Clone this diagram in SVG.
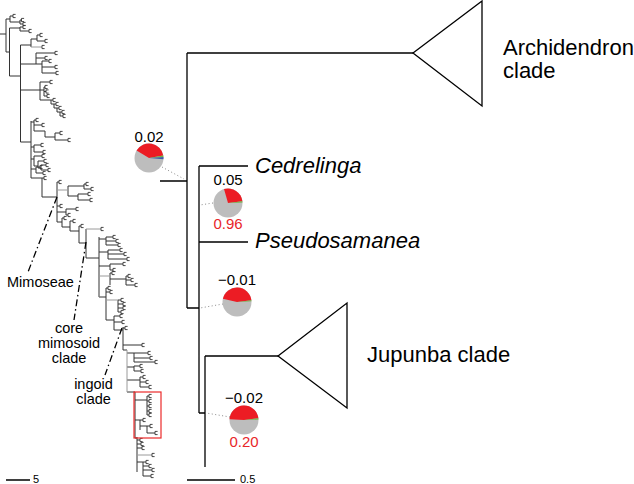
<svg xmlns="http://www.w3.org/2000/svg" width="634" height="484" viewBox="0 0 634 484">
<style>
.br{fill:none;stroke:#000;stroke-width:1.3}
.lt{fill:none;stroke:#333;stroke-width:1}
.lg{fill:none;stroke:#9a9a9a;stroke-width:1}
.dot{fill:none;stroke:#8a8a8a;stroke-width:1;stroke-dasharray:1,2.5}
.dd{fill:none;stroke:#000;stroke-width:1.3;stroke-dasharray:7,3,1.5,3}
.t{font-family:"Liberation Sans",Arial,Helvetica,sans-serif;fill:#000}
.big{font-size:22px}
.sm{font-size:14.5px}
.pl{font-size:15px}
.xs{font-size:11px}
.it{font-style:italic}
.red{fill:#e8262a}
.pr{fill:#ec1c24}
.pg{fill:#bdbdbd}
.pgr{fill:#6db33f}
.pb{fill:#3c5ea8}
</style>
<defs>
<path id="c" d="M0,-1.6V1.6M0,-1.6H2.6M0,1.6H2.6" fill="none" stroke="#333" stroke-width="0.9"/>
</defs>

<g id="overview-tree">
<path class="lt" d="M0,34H6M6,19V52M6,19H10M10,16V22M10,16H13M10,22H20M20,20V24M20,20H21.5M20,24H23
M6,52H9.5M9.5,28V76M9.5,28H20M20,27V31M20,27H23M20,31H29
M9.5,76H20.5M20.5,45V142M20.5,45H31M31,39V47M31,39H37M37,35V41M37,35H40M37,41H45
M20.5,64H36M36,53V64M36,53H55M36,58H45M36,64H42M42,61V73M42,61H49M42,67H55M42,73H56
M20.5,90H40M40,82V100M40,82H50M40,90H44M44,87V96M44,87H45M44,91.5H46M44,96H47
M40,100H51M51,100V104M51,100H53M51,104H54M54,104V108M54,104H56M54,108H57M57,108V112M57,108H59M57,112H60M60,112V116M60,112H62M60,116H63
M20.5,142H31M31,121V178M31,122H34M34,120V131M34,120H36M34,125H42M34,131H45M45,131V137M45,137H55M55,133V140M55,133H60M55,140H68
M31,147H34M34,145V152M34,145H41M34,152H43
M31,159H34M34,156V166M34,156H42M34,166H38M38,161V168M38,161H44M38,168H41M41,165V170M41,165H46M41,170H48
M31,169H36M36,167V173M36,167H40M36,173H43
M31,178H42M42,178V197M42,178H44
M42,197H57M57,182V222M57,182H59M68,186V196M68,186H84M84,184V189M84,184H86M84,189H91M68,196H78M78,194V200M78,194H88M78,200H90
M57,206H60M57,212H66M66,209V215M66,209H76M66,215H68
M57,222H62M62,218V227M62,218H64M62,227H70M70,221V231M70,221H73M70,231H79M79,226V243M79,226H81M79,243H86
M86,229V258M86,258H99M99,237V297
M99,239H106M106,237V245M106,237H113M106,241H116M106,245H118
M99,252H108M108,250V259M108,250H120M108,254H124M108,259H127
M99,266H110M110,264V270M110,264H123M110,270H113
M110,273V285M110,273H112M110,279H126M126,276V285M126,276H128M126,280H131M126,285H135
M99,297H106M106,288V320M106,288H108M106,292H110
M118,300V312M118,300H121M118,304H123M118,308H123M118,312H121
M106,320H114M114,316V330M114,316H120M114,322H122M114,330H123
M123,327V350M123,328H125M123,345H142M123,350H127
M127,353H134M134,353V362M134,353H148M134,358H150M134,362H155
M127,367H134M134,366V371M134,366H140M134,371H141
M127,380H140M140,377V387M140,377H143M140,382H146M140,387H149
M127,392H135M135,392V438
M135,400H147M147,396V415M147,396H149M147,401H149M147,406H149M147,411H149M147,415H149
M135,420H140M140,420V430M140,420H143M140,426H147M147,426V433M147,426H150M147,433H155
M135,438H137M137,437V472M137,440H140M137,444H141M137,448H142
M137,462H143M143,462V476M143,462H146M143,466H149M143,470H152M143,476H151"/>
<path class="lg" d="M31,47H42M57,190H68M86,229H101M99,276H110M106,300H118M127,350V392M137,455H152M99,297V290"/>
<use href="#c" x="13" y="16"/><use href="#c" x="21.5" y="20"/><use href="#c" x="23" y="24"/>
<use href="#c" x="23" y="27"/><use href="#c" x="29" y="31"/>
<use href="#c" x="40" y="35"/><use href="#c" x="45" y="41"/><use href="#c" x="42" y="47"/>
<use href="#c" x="55" y="53"/><use href="#c" x="45" y="58"/><use href="#c" x="49" y="61"/><use href="#c" x="55" y="67"/><use href="#c" x="56" y="73"/>
<use href="#c" x="50" y="82"/><use href="#c" x="45" y="87"/><use href="#c" x="46" y="91.5"/><use href="#c" x="47" y="96"/>
<use href="#c" x="53" y="100"/><use href="#c" x="56" y="104"/><use href="#c" x="59" y="108"/><use href="#c" x="62" y="112"/><use href="#c" x="63" y="116"/>
<use href="#c" x="36" y="120"/><use href="#c" x="42" y="125"/><use href="#c" x="60" y="133"/><use href="#c" x="68" y="140"/>
<use href="#c" x="41" y="145"/><use href="#c" x="43" y="152"/>
<use href="#c" x="42" y="156"/><use href="#c" x="44" y="161"/><use href="#c" x="46" y="165"/><use href="#c" x="48" y="170"/>
<use href="#c" x="40" y="167"/><use href="#c" x="43" y="173"/><use href="#c" x="44" y="178"/>
<use href="#c" x="59" y="182"/><use href="#c" x="86" y="184"/><use href="#c" x="91" y="189"/><use href="#c" x="88" y="194"/><use href="#c" x="90" y="200"/>
<use href="#c" x="60" y="206"/><use href="#c" x="76" y="209"/><use href="#c" x="68" y="215"/>
<use href="#c" x="64" y="218"/><use href="#c" x="73" y="221"/><use href="#c" x="81" y="226"/>
<use href="#c" x="101" y="229"/>
<use href="#c" x="113" y="237"/><use href="#c" x="116" y="241"/><use href="#c" x="118" y="245"/>
<use href="#c" x="120" y="250"/><use href="#c" x="124" y="254"/><use href="#c" x="127" y="259"/>
<use href="#c" x="123" y="264"/><use href="#c" x="113" y="270"/>
<use href="#c" x="112" y="273"/><use href="#c" x="128" y="276"/><use href="#c" x="131" y="280"/><use href="#c" x="135" y="285"/>
<use href="#c" x="108" y="288"/><use href="#c" x="110" y="292"/>
<use href="#c" x="121" y="300"/><use href="#c" x="123" y="304"/><use href="#c" x="123" y="308"/><use href="#c" x="121" y="312"/>
<use href="#c" x="120" y="316"/><use href="#c" x="122" y="322"/>
<use href="#c" x="125" y="328"/><use href="#c" x="142" y="345"/>
<use href="#c" x="148" y="353"/><use href="#c" x="150" y="358"/><use href="#c" x="155" y="362"/>
<use href="#c" x="140" y="366"/><use href="#c" x="141" y="371"/>
<use href="#c" x="143" y="377"/><use href="#c" x="146" y="382"/><use href="#c" x="149" y="387"/>
<use href="#c" x="149" y="396"/><use href="#c" x="149" y="401"/><use href="#c" x="149" y="406"/><use href="#c" x="149" y="411"/><use href="#c" x="149" y="415"/>
<use href="#c" x="143" y="420"/><use href="#c" x="150" y="426"/><use href="#c" x="155" y="433"/>
<use href="#c" x="140" y="440"/><use href="#c" x="141" y="444"/><use href="#c" x="142" y="448"/><use href="#c" x="152" y="455"/>
<use href="#c" x="146" y="462"/><use href="#c" x="149" y="466"/><use href="#c" x="152" y="470"/><use href="#c" x="151" y="476"/>
<rect x="134" y="392" width="27" height="46" fill="none" stroke="#ec2b2b" stroke-width="1.2"/>
</g>

<g id="clade-labels">
<path class="dd" d="M57,197L28,272M86,242L74,320M122,328L105,375"/>
<text class="t sm" x="7" y="287">Mimoseae</text>
<text class="t sm" text-anchor="middle" x="69" y="333">core</text>
<text class="t sm" text-anchor="middle" x="69" y="348">mimosoid</text>
<text class="t sm" text-anchor="middle" x="69" y="363">clade</text>
<text class="t sm" text-anchor="middle" x="93.5" y="389">ingoid</text>
<text class="t sm" text-anchor="middle" x="93.5" y="404">clade</text>
</g>

<g id="connectors">
<path class="br" d="M160,181H187M187,53V308M187,53H413M187,308H199M199,166V413M199,166H248M199,242H248M199,413H205M205,356V467M205,356H278"/>
<path class="dot" d="M162,167L184,179M213,203L200,205M223,304L200,308M230,417L206,413"/>
</g>

<g id="archidendron">
<path class="br" d="M413,53L482,1V106Z"/>
<text class="t big" x="503" y="55">Archidendron</text>
<text class="t big" x="503" y="78">clade</text>
</g>
<g id="jupunba">
<path class="br" d="M278,356L347,303V408Z"/>
<text class="t big" x="367" y="362">Jupunba clade</text>
</g>
<g id="cedrelinga"><text class="t big it" x="255" y="173">Cedrelinga</text></g>
<g id="pseudosamanea"><text class="t big it" x="255" y="248">Pseudosamanea</text></g>

<g id="pie-root">
<circle class="pg" cx="149" cy="158" r="14.5"/>
<path class="pr" d="M149,158L136.57,150.53A14.5,14.5 0 0 1 163.28,155.48Z"/>
<path class="pgr" d="M149,158L163.28,155.48A14.5,14.5 0 0 1 163.47,156.99Z"/>
<path class="pb" d="M149,158L163.47,156.99A14.5,14.5 0 0 1 163.44,159.26Z"/>
<text class="t pl" text-anchor="middle" x="149" y="142">0.02</text>
</g>
<g id="pie-cedrelinga">
<circle class="pg" cx="228" cy="203" r="14.5"/>
<path class="pr" d="M228,203L224,189.06A14.5,14.5 0 0 1 242.39,201.23Z"/>
<path class="pgr" d="M228,203L242.39,201.23A14.5,14.5 0 0 1 242.49,202.49Z"/>
<text class="t pl" text-anchor="middle" x="228" y="185">0.05</text>
<text class="t pl red" text-anchor="middle" x="228" y="229">0.96</text>
</g>
<g id="pie-inner">
<circle class="pg" cx="237" cy="302" r="14.5"/>
<path class="pr" d="M237,302L222.87,298.74A14.5,14.5 0 0 1 251.39,300.23Z"/>
<path class="pgr" d="M237,302L251.39,300.23A14.5,14.5 0 0 1 251.48,301.24Z"/>
<text class="t pl" text-anchor="middle" x="237" y="285">−0.01</text>
</g>
<g id="pie-jupunba">
<circle class="pg" cx="244" cy="420" r="14.5"/>
<path class="pr" d="M244,420L229.52,419.24A14.5,14.5 0 0 1 258.39,418.23Z"/>
<path class="pgr" d="M244,420L258.39,418.23A14.5,14.5 0 0 1 258.49,419.49Z"/>
<text class="t pl" text-anchor="middle" x="244" y="403">−0.02</text>
<text class="t pl red" text-anchor="middle" x="244" y="447">0.20</text>
</g>

<g id="scale-bars">
<path class="br" d="M6,480H30M187,480H235"/>
<text class="t xs" x="33" y="483">5</text>
<text class="t xs" x="240" y="483">0.5</text>
</g>
</svg>
